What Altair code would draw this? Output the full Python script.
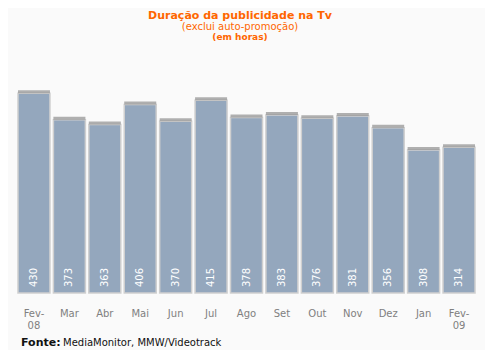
import altair as alt
import pandas as pd

months = ["Fev-|08", "Mar", "Abr", "Mai", "Jun", "Jul", "Ago", "Set", "Out", "Nov", "Dez", "Jan", "Fev-|09"]
hours = [430, 373, 363, 406, 370, 415, 378, 383, 376, 381, 356, 308, 314]

title_lines = ["Duração da publicidade na Tv", "(exclui auto-promoção)", "(em horas)"]
source_bold = "Fonte:"
source_text = "MediaMonitor, MMW/Videotrack"

df = pd.DataFrame({"mes": months, "horas": hours})

W, H = 461, 209
FONT = "DejaVu Sans"
ORANGE = "#ff6600"

xs = alt.X("mes:N", sort=months, title=None,
           scale=alt.Scale(paddingInner=0.097, paddingOuter=0.056),
           axis=alt.Axis(labelExpr="split(datum.label, '|')", labelAngle=0, labelColor="#808080",
                         labelFont=FONT, labelFontSize=10, labelLineHeight=12, labelPadding=15,
                         domain=False, ticks=False, grid=False))
ys = alt.Y("horas:Q", title=None, scale=alt.Scale(domain=[0, 450]), axis=None)

base = alt.Chart(df)

bars = base.mark_bar(color="#94a7bd", stroke="#cfcfcf", strokeWidth=1.5).encode(x=xs, y=ys)
tops = base.mark_tick(color="#8f8f8f", thickness=3, size=32, yOffset=-1.5).encode(x=xs, y=ys)
labels = base.mark_text(angle=270, align="left", baseline="middle", color="white",
                        font=FONT, fontSize=10).encode(x=xs, y=alt.value(H - 6), text="horas:Q")

tdf = pd.DataFrame({"t": [0]})
def txt(s, x, y, size, bold, color, align="center"):
    return alt.Chart(tdf).mark_text(text=s, align=align, baseline="alphabetic", font=FONT,
                                    fontSize=size, fontWeight="bold" if bold else "normal",
                                    color=color).encode(x=alt.value(x), y=alt.value(y))

t1 = txt(title_lines[0], 224, -65, 11, True, ORANGE)
t2 = txt(title_lines[1], 224, -54, 10, False, ORANGE)
t3 = txt(title_lines[2], 224, -44, 9, True, ORANGE)
f1 = txt(source_bold, 5, 262, 11, True, "#111111", "left")
f2 = txt(source_text, 47, 262, 10, False, "#111111", "left")

chart = alt.layer(bars, tops, labels, t1, t2, t3, f1, f2).properties(
    width=W, height=H,
    padding={"left": 8, "top": 76, "right": 8, "bottom": 57},
    autosize=alt.AutoSizeParams(type="none"),
    background="#fafafa",
).configure_view(stroke=None)

chart.save("out.html", embed_options={"renderer": "svg", "actions": False})
